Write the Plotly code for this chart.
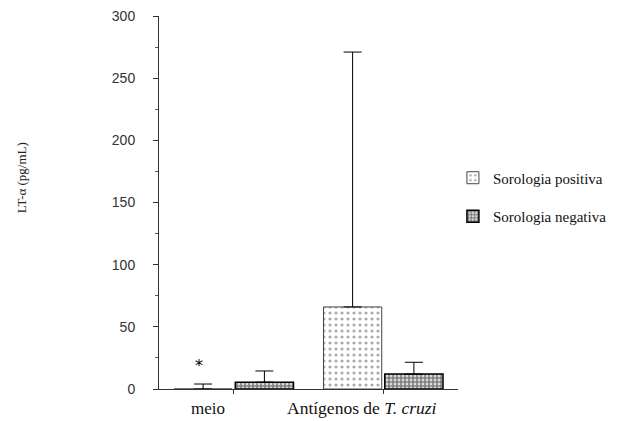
import plotly.graph_objects as go

categories = ["meio", "Antígenos de T. cruzi"]
positive_mean = [0, 66]
positive_err_top = [4, 271]
negative_mean = [5.5, 12]
negative_err_top = [14.5, 21.5]
star_label = "*"
star_value = 19
y_ticks = [0, 50, 100, 150, 200, 250, 300]

SERIF = "Liberation Serif"
SANS = "Liberation Sans"

fig = go.Figure()
fig.add_trace(go.Bar(
    name="Sorologia positiva", x=categories, y=positive_mean,
    marker=dict(color="white", line=dict(color="#444", width=1),
                pattern=dict(shape=".", fgcolor="#555", bgcolor="white", size=6, solidity=0.22)),
    error_y=dict(type="data", symmetric=False,
                 array=[t - m for t, m in zip(positive_err_top, positive_mean)],
                 arrayminus=[0, 0], color="black", thickness=1, width=9),
    legendgroup="a",
))
fig.add_trace(go.Bar(
    name="Sorologia negativa", x=categories, y=negative_mean,
    marker=dict(color="white", line=dict(color="black", width=1.5),
                pattern=dict(shape=".", fgcolor="black", bgcolor="white", size=4, solidity=0.72)),
    error_y=dict(type="data", symmetric=False,
                 array=[t - m for t, m in zip(negative_err_top, negative_mean)],
                 arrayminus=[0, 0], color="black", thickness=1, width=9),
    legendgroup="b",
))

fig.add_annotation(x=-0.23, y=star_value, xref="x", yref="y", text=star_label,
                   showarrow=False, font=dict(family="DejaVu Sans", size=16, color="black"))
fig.add_annotation(x=-0.175, y=-0.052, xref="x", yref="paper", text="meio",
                   yanchor="middle", showarrow=False, font=dict(family=SERIF, size=17, color="#111"))
fig.add_annotation(x=0.86, y=-0.052, xref="x", yref="paper", text="Antígenos de <i>T. cruzi</i>",
                   yanchor="middle", showarrow=False, font=dict(family=SERIF, size=17.5, color="#111"))
fig.add_annotation(x=-0.46, y=0.566, xref="paper", yref="paper", text="LT-α (pg/mL)",
                   xanchor="center", yanchor="middle",
                   textangle=-90, showarrow=False, font=dict(family=SERIF, size=13, color="#222"))

fig.update_layout(
    width=618, height=413,
    margin=dict(l=151, r=168, t=8, b=32, autoexpand=False),
    paper_bgcolor="white", plot_bgcolor="white",
    barmode="group", bargap=0.18, bargroupgap=0.05,
    font=dict(family=SERIF, size=13, color="#222"),
    showlegend=True,
    legend=dict(x=0.983, y=0.61, xanchor="left", yanchor="top",
                traceorder="grouped", tracegroupgap=16,
                font=dict(family=SERIF, size=15, color="#111"),
                bgcolor="rgba(0,0,0,0)"),
    xaxis=dict(range=[-0.5, 1.5], showline=True, linecolor="#333", linewidth=1,
               ticks="outside", ticklen=4, tickcolor="#333", showticklabels=False,
               showgrid=False, zeroline=False, fixedrange=True),
    yaxis=dict(range=[0, 300], tickvals=y_ticks, showline=True, linecolor="#333", linewidth=1,
               ticks="outside", ticklen=5, tickcolor="#333", showgrid=False, zeroline=False,
               ticklabelstandoff=15, ticklabeloverflow="allow",
               minor=dict(dtick=25, ticks="outside", ticklen=3, tickcolor="#555", showgrid=False),
               tickfont=dict(family=SANS, size=14, color="#333")),
)

fig.write_html("out.html")
